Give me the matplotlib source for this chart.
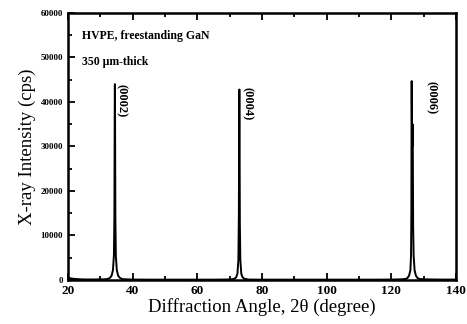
import matplotlib
matplotlib.use("Agg")
from matplotlib import pyplot as plt
from matplotlib.ticker import MultipleLocator

# XRD scan of HVPE freestanding GaN
two_theta = [20.0, 21.0, 22.0, 24.0, 26.0, 28.0, 30.0, 31.0, 32.0, 32.5, 33.0, 33.5, 33.9,
             34.2, 34.35, 34.45, 34.5, 34.55, 34.65, 34.8, 35.1, 35.5, 36.0, 36.5,
             37.0, 40.0, 45.0, 50.0, 55.0, 60.0, 65.0, 70.0,
             71.0, 71.5, 72.0, 72.4, 72.7, 72.85, 72.95, 73.0, 73.05, 73.15, 73.3, 73.6, 74.0, 74.5, 75.0,
             76.0, 80.0, 85.0, 90.0, 95.0, 100.0, 105.0, 110.0, 115.0, 120.0, 123.0,
             124.5, 125.0, 125.5, 125.9, 126.1, 126.2, 126.27, 126.3, 126.35, 126.45, 126.55,
             126.6, 126.65, 126.75, 126.9, 127.2, 127.6, 128.1, 128.6, 130.0, 135.0, 140.0]
cps = [500, 350, 250, 150, 120, 120, 150, 150, 200, 300, 500, 1000, 2200,
       5500, 14000, 38000, 44000, 38000, 14000, 5500, 2200, 1000, 500, 300,
       180, 100, 80, 80, 80, 80, 80, 120,
       200, 300, 600, 1400, 4500, 15000, 38000, 42800, 37000, 13000, 4500, 1400, 600, 300, 200,
       100, 80, 80, 80, 80, 80, 80, 80, 80, 100, 150,
       250, 450, 1000, 2200, 5500, 15000, 40000, 44700, 38000, 30000, 34000,
       35000, 30000, 12000, 5500, 2200, 1000, 450, 250, 150, 100, 100]

peak_names = ["(0002)", "(0004)", "(0006)"]
label_x = [36.6, 75.5, 132.2]
label_y = [44000, 43300, 44700]

fig = plt.figure(figsize=(4.67, 3.24), dpi=100)
ax = fig.add_axes([0.1456, 0.1358, 0.8308, 0.8241])

ax.plot(two_theta, cps, color='k', lw=1.4)

ax.set_xlim(20, 140)
ax.set_ylim(0, 60000)
ax.xaxis.set_major_locator(MultipleLocator(20))
ax.xaxis.set_minor_locator(MultipleLocator(10))
ax.yaxis.set_major_locator(MultipleLocator(10000))
ax.yaxis.set_minor_locator(MultipleLocator(5000))
ax.tick_params(which='both', direction='in', top=True, right=False, width=1.3)
ax.tick_params(which='major', length=5)
ax.tick_params(which='minor', length=3)
for s in ax.spines.values():
    s.set_linewidth(1.8)

for lab in ax.get_xticklabels():
    lab.set_fontfamily('Liberation Serif')
    lab.set_fontweight('bold')
    lab.set_fontsize(9.5)
for lab in ax.get_yticklabels():
    lab.set_fontfamily('Liberation Serif')
    lab.set_fontweight('bold')
    lab.set_fontsize(6.5)

ax.set_xlabel("Diffraction Angle, 2\u03b8 (degree)", family='Liberation Serif', fontsize=13.5, labelpad=1)
ax.set_ylabel("X-ray Intensity (cps)", family='Liberation Serif', fontsize=13.5, labelpad=3)

ax.text(24.3, 54800, "HVPE, freestanding GaN", family='Liberation Serif',
        fontweight='bold', fontsize=8.5, va='center')
ax.text(24.3, 48900, "350 \u03bcm-thick", family='Liberation Serif',
        fontweight='bold', fontsize=8.5, va='center')

for name, x, y in zip(peak_names, label_x, label_y):
    ax.text(x, y, name, rotation=-90, family='Liberation Serif', fontweight='bold',
            fontsize=9, ha='center', va='top')

fig.savefig("out.png", dpi=100)
